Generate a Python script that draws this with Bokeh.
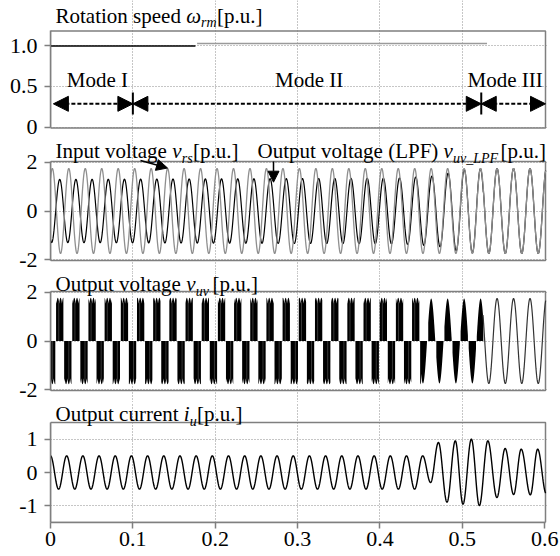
import numpy as np
from bokeh.plotting import figure
from bokeh.layouts import column
from bokeh.models import Range1d, FixedTicker, Grid, Label, Arrow, NormalHead
from bokeh.embed import file_html
from bokeh.resources import INLINE

# ---------------- data ----------------
x_ticks = [0, 0.1, 0.2, 0.3, 0.4, 0.5, 0.6]
x_tick_labels = ["0", "0.1", "0.2", "0.3", "0.4", "0.5", "0.6"]
speed_ticks = [0, 0.5, 1.0]
speed_tick_labels = ["0", "0.5", "1.0"]
volt_ticks = [-2, 0, 2]
volt_tick_labels = ["-2", "0", "2"]
cur_ticks = [-1, 0, 1]
cur_tick_labels = ["-1", "0", "1"]

# panel value limits (box of each panel)
t_limits = (0.0, 0.601)
speed_limits = (-0.012, 1.185)
volt_limits = (-2.04, 2.04)
cur_limits = (-1.5, 1.5)

# rotation speed
speed_ref_t = [0.0, 0.176]
speed_ref_v = [1.0, 1.0]
speed_meas_t = [0.178, 0.530]
speed_meas_v = [1.03, 1.03]

# operating modes
mode_names = ["Mode I", "Mode II", "Mode III"]
mode_bounds = [0.0035, 0.1, 0.523, 0.601]
mode_label_t = [0.057, 0.314, 0.552]
mode_arrow_y = 0.286
mode_label_y = 0.574
mode_bar_y = (0.154, 0.426)

# input voltage v_rs (grid, 50 Hz)
vin_amp = 1.75
vin_freq = 50.0
vin_peak_t = 0.0022

# output voltage (inverter side)
vout_freq = 50.9
vout_peak_t = 0.0112
lpf_env_t = [0.0, 0.42, 0.47, 0.50, 0.525]
lpf_env_a = [1.30, 1.35, 1.45, 1.70, 1.75]
pwm_amp = 1.78
pwm_block_width = 0.0089
pwm_gap_offsets = [-0.0012]
lobe_start = 0.45
mode3_start = 0.5255

# output current
cur_amp = 0.5
cur_peak_t = 0.0
cur_tr_t = [0.4519, 0.4615, 0.4710, 0.4814, 0.4915, 0.5008, 0.5110, 0.5207,
            0.5310, 0.5420, 0.5520, 0.5623, 0.5715, 0.5826, 0.5915, 0.6018]
cur_tr_v = [0.50, -0.30, 0.90, -0.89, 0.95, -0.95, 1.00, -0.99,
            0.95, -0.75, 0.72, -0.66, 0.70, -0.67, 0.70, -0.63]

# ---------------- waveforms ----------------
t = np.arange(0.0, 0.6012, 2e-5)
w_in = 2 * np.pi * vin_freq
w_out = 2 * np.pi * vout_freq
v_in = vin_amp * np.cos(w_in * (t - vin_peak_t))

lpf = np.interp(t, lpf_env_t, lpf_env_a) * np.cos(w_out * (t - vout_peak_t))
lpf = np.where(t >= mode3_start, v_in, lpf)

half = 0.5 / vout_freq
n = np.round((t - vout_peak_t) / half)
centre = vout_peak_t + n * half
sgn = np.where(n % 2 == 0, 1.0, -1.0)
inside = np.abs(t - centre) < pwm_block_width / 2
th = w_in * (t - vin_peak_t)
env = pwm_amp * np.maximum.reduce([np.abs(np.cos(th)), np.abs(np.cos(th - 2 * np.pi / 3)),
                                   np.abs(np.cos(th + 2 * np.pi / 3))])
vpwm = np.where(t < lobe_start, sgn * env, sgn * np.clip(sgn * v_in, 0, None))
vpwm = np.where(inside, vpwm, 0.0)
m_pwm = t < mode3_start
m_sine = t >= mode3_start - 0.0004

gap_x, gap_y1 = [], []
for k in range(-1, 60):
    c = vout_peak_t + k * half
    if c > lobe_start:
        break
    s = 1.0 if k % 2 == 0 else -1.0
    for off in pwm_gap_offsets:
        gx = c + off * s
        if 0 < gx < lobe_start:
            gap_x.append(gx)
            gap_y1.append(s * 1.6)

cur = cur_amp * np.cos(w_out * (t - cur_peak_t))
for a, b, va, vb in zip(cur_tr_t[:-1], cur_tr_t[1:], cur_tr_v[:-1], cur_tr_v[1:]):
    m = (t >= a) & (t < b)
    s = (t[m] - a) / (b - a)
    cur[m] = va + (vb - va) * (1 - np.cos(np.pi * s)) / 2

# ---------------- styling helpers ----------------
FONT = "Liberation Serif"
FRAME_GRAY = "#7f7f7f"
X0, PX_PER_X = 50.0, 495.0 / 0.601
X_RANGE = Range1d(0, 497.0 / PX_PER_X)


def px2x(px):
    return (px - X0) / PX_PER_X


def make_fig(height, bottom_border, yr, box, yticks, ylabels, xaxis=False):
    p = figure(width=560, height=height, x_range=X_RANGE, y_range=Range1d(*yr),
               x_axis_location="below" if xaxis else None, y_axis_location="left",
               output_backend="svg", toolbar_location=None,
               min_border_left=50, min_border_right=13,
               min_border_top=0, min_border_bottom=bottom_border)
    p.grid.visible = False
    p.outline_line_color = None
    p.background_fill_color = "white"
    p.border_fill_color = "white"
    axes = list(p.yaxis) + (list(p.xaxis) if xaxis else [])
    for ax in axes:
        ax.minor_tick_line_color = None
        ax.major_tick_in = 0
        ax.major_tick_out = 6
        ax.axis_line_color = FRAME_GRAY
        ax.axis_line_width = 1.5
        ax.major_tick_line_color = FRAME_GRAY
        ax.major_tick_line_width = 1.5
        ax.major_label_text_font = FONT
        ax.major_label_text_font_size = "22px"
        ax.major_label_text_color = "black"
        ax.major_label_standoff = 7
    ya = p.yaxis[0]
    ya.ticker = FixedTicker(ticks=yticks)
    ya.major_label_overrides = {v: s for v, s in zip(yticks, ylabels)}
    ya.bounds = box
    if xaxis:
        xa = p.xaxis[0]
        xa.ticker = FixedTicker(ticks=x_ticks)
        xa.major_label_overrides = {v: s for v, s in zip(x_ticks, x_tick_labels)}
        xa.bounds = t_limits
        xa.major_label_standoff = 3
    p.add_layout(Grid(dimension=0, ticker=FixedTicker(ticks=x_ticks[1:-1]), bounds=box,
                      grid_line_color="#8c8c8c", grid_line_dash="1 2", grid_line_width=1))
    p.add_layout(Grid(dimension=1, ticker=FixedTicker(ticks=yticks), bounds=t_limits,
                      grid_line_color="#8c8c8c", grid_line_dash="1 2", grid_line_width=1))
    p.quad(left=[t_limits[0]], right=[t_limits[1]], bottom=[box[0]], top=[box[1]],
           fill_color=None, line_color=FRAME_GRAY, line_width=1.5)
    return p


def add_text(p, pieces, y, y_sub):
    for txt, px, style, size, sub in pieces:
        p.add_layout(Label(x=px2x(px), y=y_sub if sub else y, text=txt, text_font=FONT,
                           text_font_size=size, text_font_style=style,
                           text_baseline="middle", text_align="left", text_color="black"))


def yrange(px_top_of_canvas, px_bottom_of_frame, px_zero, px_per_unit):
    return ((px_zero - px_bottom_of_frame) / px_per_unit, (px_zero - px_top_of_canvas) / px_per_unit)


# ---------------- panel 1: rotation speed (canvas 0..139) ----------------
p1 = make_fig(139, 0, yrange(0, 139, 126.5, 81.04), speed_limits, speed_ticks, speed_tick_labels)
p1.line(speed_ref_t, speed_ref_v, line_color="black", line_width=1.5)
p1.line(speed_meas_t, speed_meas_v, line_color="#9a9a9a", line_width=1.5)
add_text(p1, [("Rotation speed", 55, "normal", "21px", False),
              ("ω", 185.7, "italic", "21px", False),
              ("rm", 200.5, "italic", "14px", True),
              ("[p.u.]", 216.5, "normal", "21px", False)], 1.372, 1.286)
for i, name in enumerate(mode_names):
    p1.add_layout(Label(x=mode_label_t[i], y=mode_label_y, text=name, text_font=FONT,
                        text_font_size="21px", text_align="center",
                        text_baseline="middle", text_color="black"))
    p1.add_layout(Arrow(x_start=mode_bounds[i], y_start=mode_arrow_y,
                        x_end=mode_bounds[i + 1], y_end=mode_arrow_y,
                        start=NormalHead(size=15, fill_color="black", line_color="black"),
                        end=NormalHead(size=15, fill_color="black", line_color="black"),
                        line_width=2, line_dash="4 2", line_color="black"))
p1.segment(x0=mode_bounds[1:3], y0=[mode_bar_y[0]] * 2, x1=mode_bounds[1:3], y1=[mode_bar_y[1]] * 2,
           line_color="black", line_width=2)

# ---------------- panel 2: input / filtered output voltage (canvas 139..272) ----------------
p2 = make_fig(133, 0, yrange(139, 272, 210.5, 24.26), volt_limits, volt_ticks, volt_tick_labels)
p2.line(t, lpf, line_color="black", line_width=1.2)
p2.line(t, v_in, line_color="#8f8f8f", line_width=1.3)
add_text(p2, [("Input voltage", 55, "normal", "21px", False),
              ("v", 171.7, "italic", "21px", False),
              ("rs", 181.3, "italic", "14px", True),
              ("[p.u.]", 192.5, "normal", "21px", False),
              ("Output voltage (LPF)", 257, "normal", "21px", False),
              ("v", 443.1, "italic", "21px", False),
              ("uv_LPF", 452.5, "italic", "14px", True),
              ("[p.u.]", 500, "normal", "21px", False)], 2.457, 2.17)
y_of = lambda py: (210.5 - py) / 24.26
p2.add_layout(Arrow(x_start=px2x(140), y_start=y_of(160), x_end=px2x(167), y_end=y_of(167.5),
                    end=NormalHead(size=11, fill_color="black", line_color="black"),
                    line_width=1.5, line_color="black"))
p2.add_layout(Arrow(x_start=px2x(273), y_start=y_of(161), x_end=px2x(273), y_end=y_of(181.7),
                    end=NormalHead(size=11, fill_color="black", line_color="black"),
                    line_width=1.5, line_color="black"))

# ---------------- panel 3: PWM output voltage (canvas 272..402) ----------------
p3 = make_fig(130, 0, yrange(272, 402, 340.5, 24.26), volt_limits, volt_ticks, volt_tick_labels)
p3.varea(x=t[m_pwm], y1=np.zeros(int(m_pwm.sum())), y2=vpwm[m_pwm], fill_color="black")
p3.segment(x0=gap_x, y0=[0.0] * len(gap_x), x1=gap_x, y1=gap_y1,
           line_color="white", line_width=0.5, line_alpha=0.45)
p3.line(t[m_sine], v_in[m_sine], line_color="#333333", line_width=1.2)
add_text(p3, [("Output voltage", 55, "normal", "21px", False),
              ("v", 185.7, "italic", "21px", False),
              ("uv", 195.2, "italic", "14px", True),
              ("[p.u.]", 212, "normal", "21px", False)], 2.333, 2.045)

# ---------------- panel 4: output current (canvas 402..556) ----------------
p4 = make_fig(154, 34, yrange(402, 522, 472.0, 33.33), cur_limits, cur_ticks, cur_tick_labels,
              xaxis=True)
p4.line(t, cur, line_color="black", line_width=1.4)
add_text(p4, [("Output current", 55, "normal", "21px", False),
              ("i", 183.3, "italic", "21px", False),
              ("u", 189.3, "italic", "14px", True),
              ("[p.u.]", 196.5, "normal", "21px", False)], 1.743, 1.533)

layout = column(p1, p2, p3, p4, spacing=0)
open("out.html", "w").write(file_html(layout, INLINE))
